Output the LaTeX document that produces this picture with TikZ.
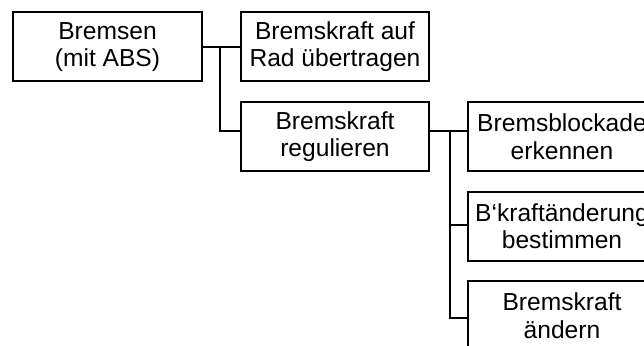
\documentclass[tikz,border=0pt]{standalone}
\usepackage{fontspec}
\setmainfont{Liberation Sans}
\usepackage{tikz}

\begin{document}
\begin{tikzpicture}[x=1pt, y=1pt,
    function/.style ={rectangle, draw, line width=1.7pt, inner sep=0pt,
      minimum width=188pt, minimum height=69pt, align=center,
      font=\fontsize{24.6}{27.3}\selectfont},
    link/.style ={line width=1.9pt}]
   \useasboundingbox (0,0) rectangle (644,-345);
   \node[function, minimum width=189pt] (A) at (107.5,-46.8) {Bremsen\\(mit ABS)};
   \node[function] (B) at (335,-46.8) {Bremskraft auf\\Rad übertragen};
   \node[function] (C) at (335,-136.7) {Bremskraft\\regulieren};
   \node[function] (D) at (562,-136.7) {Bremsblockade\\erkennen};
   \node[function] (E) at (562,-226.3) {B‘kraftänderung\\bestimmen};
   \node[function] (F) at (562,-315.8) {Bremskraft\\ändern};

   \coordinate (T1) at (220,-46.8);
   \coordinate (T2) at (450,-131);

   \draw[link] (A) to  (B);
   \draw[link] (T1) |- ([yshift=5.7pt]C.west);
   \draw[link] ([yshift=5.7pt]C.east) to ([yshift=5.7pt]D.west);
   \draw[link] (T2) |- ([yshift=1.3pt]E.west);
   \draw[link] (T2) |- ([yshift=-2.5pt]F.west);
\end{tikzpicture}
\end{document}
